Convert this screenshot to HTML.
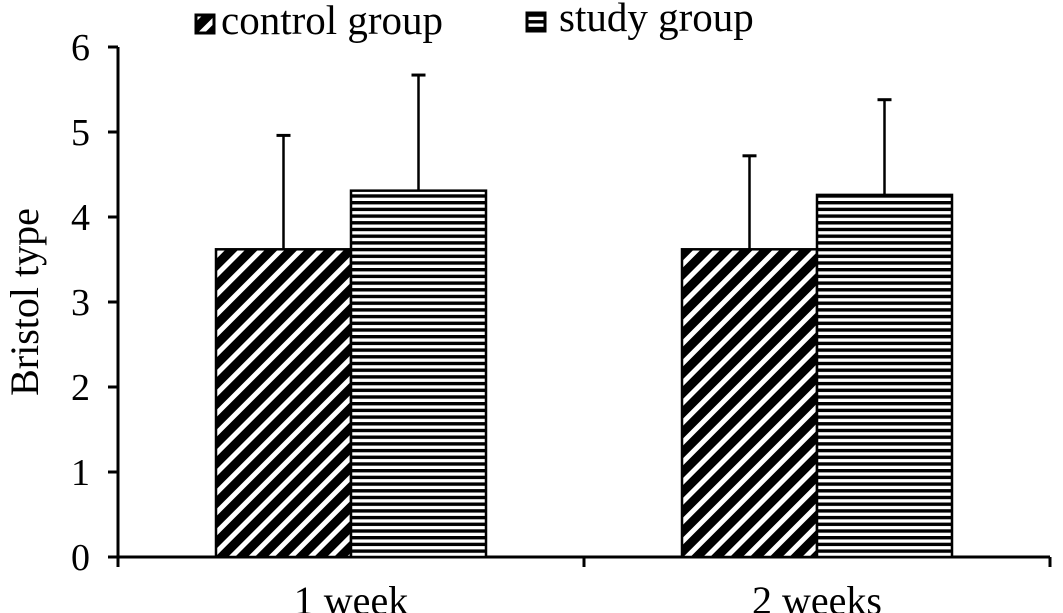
<!DOCTYPE html>
<html><head><meta charset="utf-8"><style>
html,body{margin:0;padding:0;background:#fff;}
svg{display:block;font-family:"Liberation Serif",serif;}
</style></head><body>
<svg id="chart" width="1063" height="613" viewBox="0 0 1063 613">
<defs>
<pattern id="diag" patternUnits="userSpaceOnUse" width="14" height="14" patternTransform="rotate(45)">
<rect width="14" height="14" fill="#fff"/><rect width="9" height="14" fill="#000"/>
</pattern>
<pattern id="horiz" patternUnits="userSpaceOnUse" width="10" height="6.7">
<rect width="10" height="6.7" fill="#fff"/><rect width="10" height="3.4" fill="#000"/>
</pattern>
</defs>
<g id="axes"></g>
<g id="bars"></g>
<text x="38" y="302" font-size="40" text-anchor="middle" transform="rotate(-90 38 302)">Bristol type</text>
<g>
<rect x="196" y="15" width="18" height="18" fill="url(#diag)" stroke="#000" stroke-width="3"/>
<text x="221" y="34" font-size="41">control group</text>
<rect x="527" y="13" width="18" height="18" fill="url(#horiz)" stroke="#000" stroke-width="3"/>
<text x="559" y="31" font-size="41">study group</text>
</g>
</svg>
<script>
const categories = ["1 week", "2 weeks"];
const controlValues = [3.62, 3.62];
const controlErrors = [1.34, 1.10];
const studyValues = [4.31, 4.26];
const studyErrors = [1.36, 1.12];
const yTicks = [0, 1, 2, 3, 4, 5, 6];

const NS = "http://www.w3.org/2000/svg";
const x0 = 118, x1 = 1050, yBase = 557, yTop = 47, yMax = 6;
const y = v => yBase - (v / yMax) * (yBase - yTop);
const groupW = (x1 - x0) / categories.length;
const barW = 135;
function mk(tag, attrs, parent) {
  const e = document.createElementNS(NS, tag);
  for (const k in attrs) e.setAttribute(k, attrs[k]);
  parent.appendChild(e);
  return e;
}
const axes = document.getElementById("axes");
const bars = document.getElementById("bars");
let e;
e = mk("line", {x1: x0, y1: yTop, x2: x0, y2: yBase, stroke: "#000", "stroke-width": 3}, axes);


e = mk("line", {x1: x0, y1: yBase, x2: x1, y2: yBase, stroke: "#000", "stroke-width": 3}, axes);


yTicks.forEach(t => {
  const ty = y(t);
  const l = mk("line", {x1: x0 - 10, y1: ty, x2: x0, y2: ty, stroke: "#000", "stroke-width": 3}, axes);
  
  
  const tx = mk("text", {x: 90, y: ty + 13, "font-size": 38, "text-anchor": "end"}, axes);
  tx.textContent = t;
  
  
});
for (let i = 0; i <= categories.length; i++) {
  const tx = x0 + i * groupW;
  const l = mk("line", {x1: tx, y1: yBase, x2: tx, y2: yBase + 10, stroke: "#000", "stroke-width": 3}, axes);
  
  
}
categories.forEach((c, i) => {
  const cx = x0 + (i + 0.5) * groupW;
  const t = mk("text", {x: cx, y: 614, "font-size": 40, "text-anchor": "middle"}, axes);
  t.textContent = c;
  
  
  const series = [[controlValues[i], controlErrors[i], "url(#diag)", cx - barW, "control"],
                  [studyValues[i], studyErrors[i], "url(#horiz)", cx, "study"]];
  series.forEach(([v, err, fill, bx, nm]) => {
    const ex = bx + barW / 2;
    const el = mk("line", {x1: ex, y1: y(v + err), x2: ex, y2: y(v), stroke: "#000", "stroke-width": 2.5}, bars);
    
    
    const cap = mk("line", {x1: ex - 7, y1: y(v + err), x2: ex + 7, y2: y(v + err), stroke: "#000", "stroke-width": 3}, bars);
    
    
    const r = mk("rect", {x: bx, y: y(v), width: barW, height: yBase - y(v), fill: fill, stroke: "#000", "stroke-width": 2.5}, bars);
    
    
  });
});
</script>
</body></html>
